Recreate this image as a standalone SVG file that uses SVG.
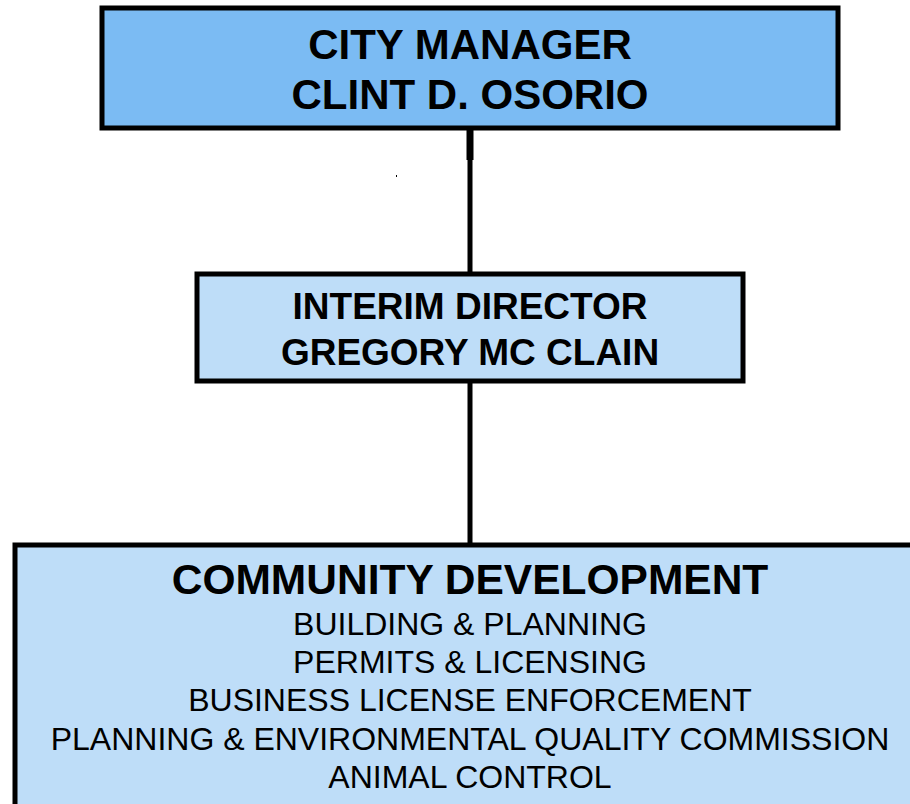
<svg xmlns="http://www.w3.org/2000/svg" width="910" height="804" viewBox="0 0 910 804">
<style>
.box{stroke:#000;stroke-width:5}
.b{font-family:"Liberation Sans",Arial,sans-serif;font-weight:bold;fill:#000;text-anchor:middle}
.r{font-family:"Liberation Sans",Arial,sans-serif;font-size:32px;fill:#000;text-anchor:middle}
.c{stroke:#000;stroke-width:5;fill:none}
</style>
<rect width="910" height="804" fill="#fff"/>
<g id="connectors">
<line class="c" x1="470" y1="130" x2="470" y2="274"/>
<line x1="470" y1="130" x2="470" y2="160" stroke="#000" stroke-width="7"/>
<line class="c" x1="470" y1="382" x2="470" y2="545"/>
<rect x="396" y="175" width="1" height="2" fill="#000"/>
</g>
<g id="city-manager">
<rect class="box" x="102" y="8" width="736" height="120" fill="#7BBBF3"/>
<text class="b" x="470" y="59" font-size="42">CITY MANAGER</text>
<text class="b" x="470" y="109" font-size="42">CLINT D. OSORIO</text>
</g>
<g id="interim-director">
<rect class="box" x="197" y="274" width="546" height="107" fill="#BEDDF8"/>
<text class="b" x="470" y="319" font-size="37">INTERIM DIRECTOR</text>
<text class="b" x="470" y="365" font-size="37">GREGORY MC CLAIN</text>
</g>
<g id="community-development">
<rect class="box" x="15" y="545" width="905" height="270" fill="#BEDDF8"/>
<text class="b" x="470" y="594" font-size="42.5">COMMUNITY DEVELOPMENT</text>
<text class="r" x="470" y="635">BUILDING &amp; PLANNING</text>
<text class="r" x="470" y="673">PERMITS &amp; LICENSING</text>
<text class="r" x="470" y="711">BUSINESS LICENSE ENFORCEMENT</text>
<text class="r" x="470" y="750">PLANNING &amp; ENVIRONMENTAL QUALITY COMMISSION</text>
<text class="r" x="470" y="788">ANIMAL CONTROL</text>
</g>
</svg>
